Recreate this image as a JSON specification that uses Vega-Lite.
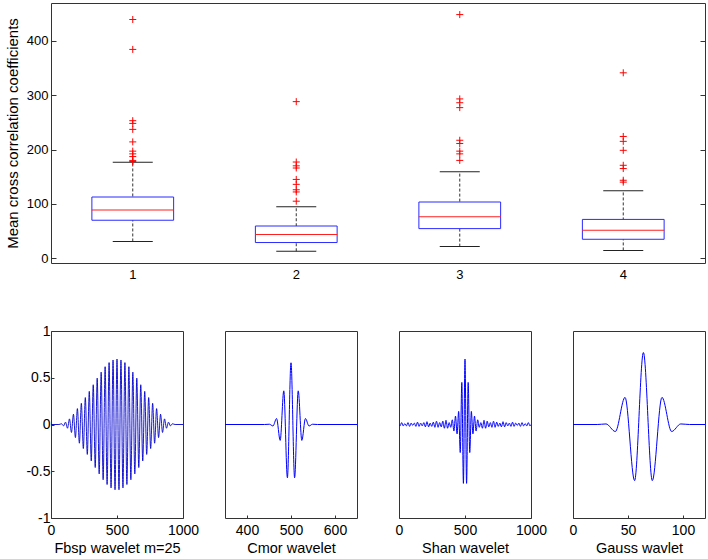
{
  "$schema": "https://vega.github.io/schema/vega-lite/v6.json",
  "padding": {"left": 4, "top": 2, "right": 0, "bottom": 0},
  "background": "white",
  "bounds": "flush",
  "spacing": 68,
  "config": {
    "font": "Liberation Sans",
    "view": {"stroke": "#333", "strokeWidth": 1},
    "axis": {"grid": false, "domain": false, "tickColor": "#333", "labelColor": "#000", "titleColor": "#000", "titleFontWeight": "normal", "labelFont": "Liberation Sans", "titleFont": "Liberation Sans", "labelOverlap": false, "labelFlush": false}
  },
  "datasets": {
    "box": [
      {"g": "1", "lo": 31, "q1": 70, "med": 89, "q3": 112.7, "hi": 176.5},
      {"g": "2", "lo": 13, "q1": 29, "med": 44, "q3": 59.4, "hi": 95},
      {"g": "3", "lo": 21.5, "q1": 54.6, "med": 76.6, "q3": 103.5, "hi": 159},
      {"g": "4", "lo": 14.5, "q1": 35, "med": 51.5, "q3": 71.5, "hi": 124.4}
    ],
    "out": [
      {"g": "1", "v": 439}, {"g": "1", "v": 384}, {"g": "1", "v": 253}, {"g": "1", "v": 248}, {"g": "1", "v": 237}, {"g": "1", "v": 214}, {"g": "1", "v": 197}, {"g": "1", "v": 192}, {"g": "1", "v": 187}, {"g": "1", "v": 180}, {"g": "1", "v": 178},
      {"g": "2", "v": 288}, {"g": "2", "v": 177}, {"g": "2", "v": 170}, {"g": "2", "v": 166}, {"g": "2", "v": 145}, {"g": "2", "v": 136}, {"g": "2", "v": 126}, {"g": "2", "v": 122}, {"g": "2", "v": 105},
      {"g": "3", "v": 448}, {"g": "3", "v": 293}, {"g": "3", "v": 286}, {"g": "3", "v": 277}, {"g": "3", "v": 217}, {"g": "3", "v": 211}, {"g": "3", "v": 197}, {"g": "3", "v": 192}, {"g": "3", "v": 180},
      {"g": "4", "v": 341}, {"g": "4", "v": 224}, {"g": "4", "v": 215}, {"g": "4", "v": 198.5}, {"g": "4", "v": 171}, {"g": "4", "v": 165}, {"g": "4", "v": 143.5}, {"g": "4", "v": 140}
    ],
    "fbsp": [
      {"x": 0, "y": 0}, {"x": 60, "y": 0}, {"x": 80, "y": 0.008}, {"x": 95, "y": -0.015}, {"x": 110, "y": 0.025}, {"x": 125, "y": -0.04}, {"x": 140, "y": 0.06}, {"x": 155, "y": -0.085}, {"x": 170, "y": 0.11}, {"x": 185, "y": -0.14}, {"x": 200, "y": 0.17},
      {"x": 215, "y": -0.2}, {"x": 230, "y": 0.227}, {"x": 245, "y": -0.257}, {"x": 260, "y": 0.288}, {"x": 275, "y": -0.32}, {"x": 290, "y": 0.354}, {"x": 305, "y": -0.389}, {"x": 320, "y": 0.425}, {"x": 335, "y": -0.46}, {"x": 350, "y": 0.495},
      {"x": 365, "y": -0.528}, {"x": 380, "y": 0.56}, {"x": 395, "y": -0.591}, {"x": 410, "y": 0.618}, {"x": 425, "y": -0.642}, {"x": 440, "y": 0.662}, {"x": 455, "y": -0.678}, {"x": 470, "y": 0.69}, {"x": 485, "y": -0.698}, {"x": 500, "y": 0.7},
      {"x": 515, "y": -0.698}, {"x": 530, "y": 0.69}, {"x": 545, "y": -0.678}, {"x": 560, "y": 0.662}, {"x": 575, "y": -0.642}, {"x": 590, "y": 0.618}, {"x": 605, "y": -0.591}, {"x": 620, "y": 0.56}, {"x": 635, "y": -0.528}, {"x": 650, "y": 0.495},
      {"x": 665, "y": -0.46}, {"x": 680, "y": 0.425}, {"x": 695, "y": -0.389}, {"x": 710, "y": 0.354}, {"x": 725, "y": -0.32}, {"x": 740, "y": 0.288}, {"x": 755, "y": -0.257}, {"x": 770, "y": 0.227}, {"x": 785, "y": -0.2}, {"x": 800, "y": 0.17},
      {"x": 815, "y": -0.14}, {"x": 830, "y": 0.11}, {"x": 845, "y": -0.085}, {"x": 860, "y": 0.06}, {"x": 875, "y": -0.04}, {"x": 890, "y": 0.025}, {"x": 905, "y": -0.015}, {"x": 920, "y": 0.008}, {"x": 940, "y": 0}, {"x": 1000, "y": 0}
    ],
    "cmor": [
      {"x": 350, "y": 0}, {"x": 440, "y": 0}, {"x": 450.8, "y": 0.003}, {"x": 459, "y": -0.016}, {"x": 467.2, "y": 0.064}, {"x": 475.4, "y": -0.17}, {"x": 483.6, "y": 0.36}, {"x": 491.8, "y": -0.57}, {"x": 500, "y": 0.66},
      {"x": 508.2, "y": -0.57}, {"x": 516.4, "y": 0.36}, {"x": 524.6, "y": -0.17}, {"x": 532.8, "y": 0.064}, {"x": 541, "y": -0.016}, {"x": 549.2, "y": 0.003}, {"x": 560, "y": 0}, {"x": 650, "y": 0}
    ],
    "shan": [
      {"x": 0, "y": 0}, {"x": 8, "y": -0.015}, {"x": 20, "y": 0.02}, {"x": 32, "y": -0.015}, {"x": 44, "y": 0.01}, {"x": 56, "y": -0.015}, {"x": 68, "y": 0.02}, {"x": 80, "y": -0.02}, {"x": 92, "y": 0.015}, {"x": 104, "y": -0.01},
      {"x": 116, "y": 0.015}, {"x": 128, "y": -0.02}, {"x": 140, "y": 0.025}, {"x": 152, "y": -0.02}, {"x": 164, "y": 0.015}, {"x": 176, "y": -0.015}, {"x": 188, "y": 0.02}, {"x": 200, "y": -0.025}, {"x": 212, "y": 0.03}, {"x": 224, "y": -0.025},
      {"x": 236, "y": 0.015}, {"x": 248, "y": -0.02}, {"x": 260, "y": 0.025}, {"x": 272, "y": -0.03}, {"x": 284, "y": 0.035}, {"x": 296, "y": -0.03}, {"x": 308, "y": 0.02}, {"x": 320, "y": -0.025}, {"x": 332, "y": 0.035}, {"x": 344, "y": -0.04},
      {"x": 356, "y": 0.045}, {"x": 368, "y": -0.04}, {"x": 380, "y": 0.02}, {"x": 392, "y": -0.03}, {"x": 404, "y": 0.05}, {"x": 416, "y": -0.07}, {"x": 428, "y": 0.09}, {"x": 440, "y": -0.1}, {"x": 452, "y": 0.14}, {"x": 464, "y": -0.3},
      {"x": 476, "y": 0.45}, {"x": 488, "y": -0.63}, {"x": 500, "y": 0.7}, {"x": 512, "y": -0.63}, {"x": 524, "y": 0.45}, {"x": 536, "y": -0.3}, {"x": 548, "y": 0.14}, {"x": 560, "y": -0.1}, {"x": 572, "y": 0.09}, {"x": 584, "y": -0.07},
      {"x": 596, "y": 0.05}, {"x": 608, "y": -0.03}, {"x": 620, "y": 0.02}, {"x": 632, "y": -0.04}, {"x": 644, "y": 0.045}, {"x": 656, "y": -0.04}, {"x": 668, "y": 0.035}, {"x": 680, "y": -0.025}, {"x": 692, "y": 0.02}, {"x": 704, "y": -0.03},
      {"x": 716, "y": 0.035}, {"x": 728, "y": -0.03}, {"x": 740, "y": 0.025}, {"x": 752, "y": -0.02}, {"x": 764, "y": 0.015}, {"x": 776, "y": -0.025}, {"x": 788, "y": 0.03}, {"x": 800, "y": -0.025}, {"x": 812, "y": 0.02}, {"x": 824, "y": -0.015},
      {"x": 836, "y": 0.015}, {"x": 848, "y": -0.02}, {"x": 860, "y": 0.025}, {"x": 872, "y": -0.02}, {"x": 884, "y": 0.015}, {"x": 896, "y": -0.01}, {"x": 908, "y": 0.015}, {"x": 920, "y": -0.02}, {"x": 932, "y": 0.02}, {"x": 944, "y": -0.015},
      {"x": 956, "y": 0.01}, {"x": 968, "y": -0.015}, {"x": 980, "y": 0.02}, {"x": 992, "y": -0.015}, {"x": 1000, "y": 0}
    ],
    "gauss": [
      {"x": 0, "y": 0}, {"x": 22, "y": 0}, {"x": 30, "y": 0.006}, {"x": 38.5, "y": -0.075}, {"x": 47.3, "y": 0.29}, {"x": 56, "y": -0.6}, {"x": 64, "y": 0.77},
      {"x": 72.1, "y": -0.6}, {"x": 80.9, "y": 0.29}, {"x": 89.7, "y": -0.075}, {"x": 98, "y": 0.006}, {"x": 106, "y": 0}, {"x": 120, "y": 0}
    ]
  },
  "vconcat": [
    {
      "width": 654,
      "height": 260,
      "layer": [
        {
          "data": {"name": "box"},
          "mark": {"type": "rule", "color": "#333", "strokeDash": [3, 2], "strokeWidth": 1},
          "encoding": {
            "x": {"field": "g", "type": "nominal", "scale": {"domain": ["1", "2", "3", "4"], "paddingInner": 0, "paddingOuter": 0}, "axis": {"title": null, "labelAngle": 0, "ticks": false, "labelPadding": 5, "labelFontSize": 13}},
            "y": {"field": "lo", "type": "quantitative", "scale": {"domain": [-8.6, 469.3], "nice": false, "zero": false}, "axis": {"values": [0, 100, 200, 300, 400], "tickSize": -5, "labelPadding": 8, "labelFontSize": 13, "title": "Mean cross correlation coefficients", "titleFontSize": 15, "titlePadding": 6}},
            "y2": {"field": "hi"}
          }
        },
        {
          "data": {"name": "box"},
          "mark": {"type": "bar", "fill": "white", "stroke": "#2a2aff", "strokeWidth": 1, "width": {"band": 0.5}},
          "encoding": {
            "x": {"field": "g", "type": "nominal"},
            "y": {"field": "q1", "type": "quantitative", "axis": null},
            "y2": {"field": "q3"}
          }
        },
        {
          "data": {"name": "box"},
          "mark": {"type": "tick", "color": "#ff2020", "size": 82, "thickness": 1, "opacity": 1},
          "encoding": {
            "x": {"field": "g", "type": "nominal"},
            "y": {"field": "med", "type": "quantitative", "axis": null}
          }
        },
        {
          "data": {"name": "box"},
          "mark": {"type": "tick", "color": "#222", "size": 40, "thickness": 1, "opacity": 1},
          "encoding": {
            "x": {"field": "g", "type": "nominal"},
            "y": {"field": "lo", "type": "quantitative", "axis": null}
          }
        },
        {
          "data": {"name": "box"},
          "mark": {"type": "tick", "color": "#222", "size": 40, "thickness": 1, "opacity": 1},
          "encoding": {
            "x": {"field": "g", "type": "nominal"},
            "y": {"field": "hi", "type": "quantitative", "axis": null}
          }
        },
        {
          "data": {"name": "out"},
          "mark": {"type": "point", "shape": "M-1,0H1M0,-1V1", "size": 49, "filled": false, "stroke": "#ff0000", "strokeWidth": 1, "opacity": 1},
          "encoding": {
            "x": {"field": "g", "type": "nominal"},
            "y": {"field": "v", "type": "quantitative", "axis": {"orient": "right", "values": [0, 100, 200, 300, 400], "tickSize": -5, "labels": false, "title": null}}
          }
        }
      ],
      "resolve": {"axis": {"y": "independent"}}
    },
    {
      "bounds": "flush",
      "spacing": 42,
      "hconcat": [
        {
          "width": 132, "height": 187,
          "data": {"name": "fbsp"},
          "mark": {"type": "line", "interpolate": "monotone", "color": "#0000cc", "strokeWidth": 0.9, "clip": true},
          "encoding": {
            "x": {"field": "x", "type": "quantitative", "scale": {"domain": [0, 1000], "nice": false, "zero": false}, "axis": {"values": [0, 500, 1000], "format": "d", "tickSize": -3, "labelFontSize": 14, "labelPadding": 8, "title": "Fbsp wavelet m=25", "titleFontSize": 14.5, "titlePadding": 4}},
            "y": {"field": "y", "type": "quantitative", "scale": {"domain": [-1, 1], "nice": false, "zero": false}, "axis": {"values": [-1, -0.5, 0, 0.5, 1], "format": "~g", "tickSize": -3, "labelFontSize": 14, "labelPadding": 4, "title": null, "labelExpr": "replace(datum.label, '−', '-')"}}
          }
        },
        {
          "width": 132, "height": 187,
          "data": {"name": "cmor"},
          "mark": {"type": "line", "interpolate": "monotone", "color": "#0000ff", "strokeWidth": 1, "clip": true},
          "encoding": {
            "x": {"field": "x", "type": "quantitative", "scale": {"domain": [350, 650], "nice": false, "zero": false}, "axis": {"values": [400, 500, 600], "format": "d", "tickSize": -3, "labelFontSize": 14, "labelPadding": 8, "title": "Cmor wavelet", "titleFontSize": 14.5, "titlePadding": 4}},
            "y": {"field": "y", "type": "quantitative", "scale": {"domain": [-1, 1], "nice": false, "zero": false}, "axis": null}
          }
        },
        {
          "width": 132, "height": 187,
          "data": {"name": "shan"},
          "mark": {"type": "line", "interpolate": "monotone", "color": "#0000ff", "strokeWidth": 1, "clip": true},
          "encoding": {
            "x": {"field": "x", "type": "quantitative", "scale": {"domain": [0, 1000], "nice": false, "zero": false}, "axis": {"values": [0, 500, 1000], "format": "d", "tickSize": -3, "labelFontSize": 14, "labelPadding": 8, "title": "Shan wavelet", "titleFontSize": 14.5, "titlePadding": 4}},
            "y": {"field": "y", "type": "quantitative", "scale": {"domain": [-1, 1], "nice": false, "zero": false}, "axis": null}
          }
        },
        {
          "width": 132, "height": 187,
          "data": {"name": "gauss"},
          "mark": {"type": "line", "interpolate": "monotone", "color": "#0000ff", "strokeWidth": 1, "clip": true},
          "encoding": {
            "x": {"field": "x", "type": "quantitative", "scale": {"domain": [0, 120], "nice": false, "zero": false}, "axis": {"values": [0, 50, 100], "format": "d", "tickSize": -3, "labelFontSize": 14, "labelPadding": 8, "title": "Gauss wavlet", "titleFontSize": 14.5, "titlePadding": 4}},
            "y": {"field": "y", "type": "quantitative", "scale": {"domain": [-1, 1], "nice": false, "zero": false}, "axis": null}
          }
        }
      ]
    }
  ]
}
